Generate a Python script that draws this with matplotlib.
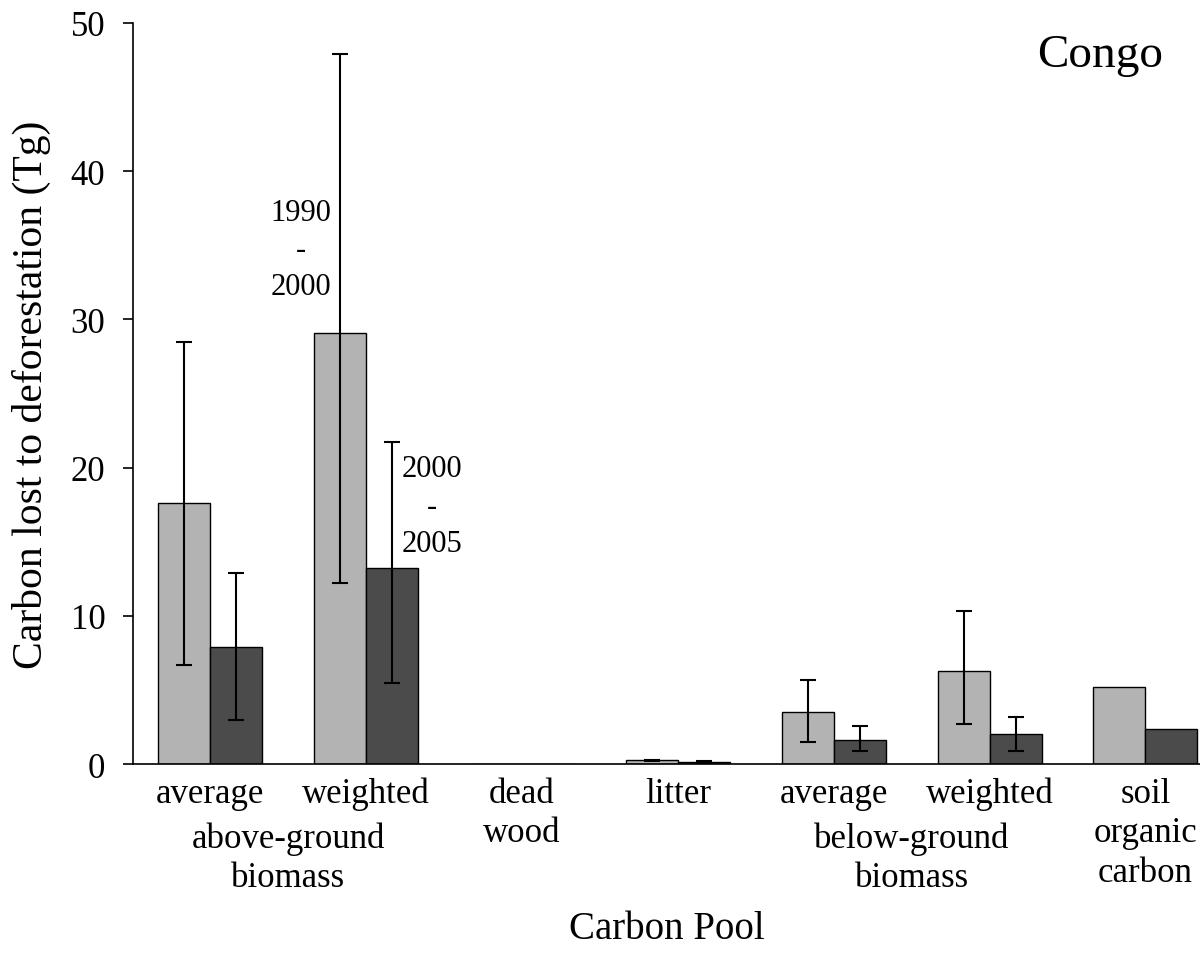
import numpy as np
import matplotlib.pyplot as plt

plt.rcParams['font.family'] = ['Liberation Serif', 'DejaVu Serif']

pools = ["average", "weighted", "dead\nwood", "litter", "average", "weighted", "soil\norganic\ncarbon"]
groups = ["above-ground\nbiomass", "below-ground\nbiomass"]
group_pos = [0.5, 4.5]
c_9000 = [17.6, 29.1, 0.0, 0.25, 3.5, 6.3, 5.2]
lo_9000 = [6.7, 12.2, 0.0, 0.2, 1.5, 2.7, 5.2]
hi_9000 = [28.5, 47.9, 0.0, 0.3, 5.7, 10.3, 5.2]
c_0005 = [7.9, 13.2, 0.0, 0.15, 1.6, 2.0, 2.4]
lo_0005 = [3.0, 5.5, 0.0, 0.1, 0.9, 0.9, 2.4]
hi_0005 = [12.9, 21.7, 0.0, 0.2, 2.6, 3.2, 2.4]
has_err = [True, True, False, True, True, True, False]

x = np.arange(len(pools))
w = 1 / 3

fig = plt.figure(figsize=(12, 9.54), dpi=100)
ax = fig.add_axes([0.111, 0.198, 0.889, 0.777])

for vals, lo, hi, off, col in [(c_9000, lo_9000, hi_9000, -w / 2, '#b3b3b3'),
                               (c_0005, lo_0005, hi_0005, w / 2, '#4b4b4b')]:
	v = np.array(vals)
	ax.bar(x + off, v, w, color=col, edgecolor='black', linewidth=1)
	m = np.array(has_err)
	err = np.array([v - np.array(lo), np.array(hi) - v])
	ax.errorbar((x + off)[m], v[m], yerr=err[:, m], fmt='none', ecolor='black',
		elinewidth=1.5, capsize=6, capthick=1.5)

ax.set_xlim(-0.494, 6.35)
ax.set_ylim(0, 50)
ax.set_yticks([0, 10, 20, 30, 40, 50])
ax.set_xticks(x)
ax.set_xticklabels(pools, fontsize=25, linespacing=1.27)
ax.tick_params(axis='x', which='both', length=0, pad=9)
ax.tick_params(axis='y', direction='out', length=7, width=1.2, labelsize=25, pad=13)
for s in ['top', 'right']:
	ax.spines[s].set_visible(False)
ax.spines['left'].set_linewidth(1.2)
ax.spines['bottom'].set_linewidth(1.2)

for gp, gl in zip(group_pos, groups):
	ax.annotate(gl, xy=(gp, 0), xycoords=('data', 'axes fraction'),
		xytext=(0, -41), textcoords='offset points', fontsize=25,
		ha='center', va='top', linespacing=1.27)

ax.set_ylabel("Carbon lost to deforestation (Tg)", fontsize=30, labelpad=14)
ax.set_xlabel("Carbon Pool", fontsize=28, labelpad=15)

ax.text(0.58, 34.7, "1990\n-\n2000", fontsize=22, ha='center', va='center', linespacing=1.35)
ax.text(1.42, 17.4, "2000\n-\n2005", fontsize=22, ha='center', va='center', linespacing=1.4)
ax.text(0.965, 0.985, "Congo", transform=ax.transAxes, fontsize=34, ha='right', va='top')

fig.savefig('out.png', dpi=100)
